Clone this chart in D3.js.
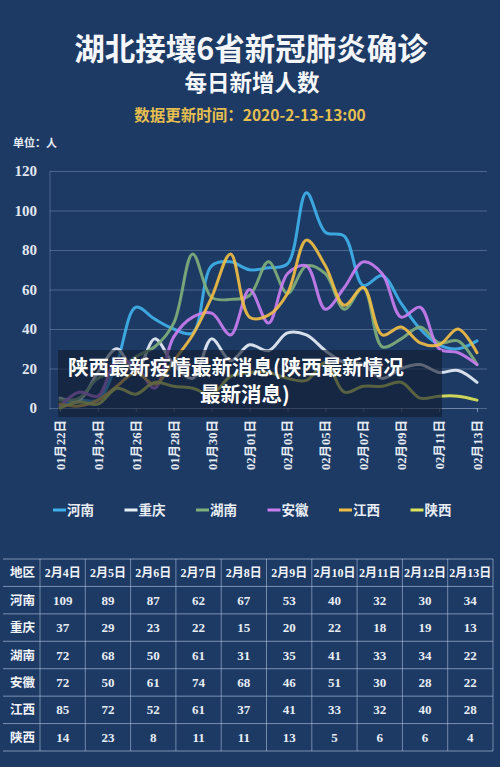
<!DOCTYPE html>
<html><head><meta charset="utf-8">
<script src="https://cdn.jsdelivr.net/npm/d3@7/dist/d3.min.js"></script>
<style>
html,body{margin:0;padding:0;background:#1d3a65;}
svg{display:block;}
</style></head><body>
<svg id="c" width="500" height="767"></svg>
<script>
const dates = ["01月22日","01月23日","01月24日","01月25日","01月26日","01月27日","01月28日","01月29日","01月30日","01月31日","02月01日","02月02日","02月03日","02月04日","02月05日","02月06日","02月07日","02月08日","02月09日","02月10日","02月11日","02月12日","02月13日"];
const provinces = ["河南","重庆","湖南","安徽","江西","陕西"];
const henan     = [1,4,4,23,51,45,40,38,72,74,70,71,73,109,89,87,62,67,53,40,32,30,34];
const chongqing = [5,4,18,30,18,35,22,15,35,24,32,29,38,37,29,23,22,15,20,22,18,19,13];
const hunan     = [4,5,15,19,26,31,43,78,56,55,57,74,58,72,68,50,61,31,35,41,33,34,22];
const anhui     = [1,8,6,24,21,10,36,46,48,37,60,43,68,72,50,61,74,68,46,51,30,28,22];
const jiangxi   = [2,1,4,11,18,12,24,37,56,78,46,47,58,85,72,52,61,37,41,33,32,40,28];
const shaanxi   = [0,3,2,10,7,13,11,10,7,16,18,18,15,14,23,8,11,11,13,5,6,6,4];
const yTicks = [0,20,40,60,80,100,120];
const tableDates = ["2月4日","2月5日","2月6日","2月7日","2月8日","2月9日","2月10日","2月11日","2月12日","2月13日"];
const colors = ["#3fb0e8","#e6eef6","#7fae7a","#c97ef0","#f0bd45","#dde35a"];
const series = [henan,chongqing,hunan,anhui,jiangxi,shaanxi];

const svg = d3.select("#c");
svg.append("rect").attr("width",500).attr("height",767).attr("fill","#1d3a65");

const sans = "'Noto Sans CJK SC','Noto Sans',sans-serif";
const serif = "'Liberation Serif','DejaVu Serif','Noto Sans CJK SC',serif";

// Titles
svg.append("text").attr("x",251).attr("y",60).attr("text-anchor","middle")
  .attr("font-family",sans).attr("font-weight","bold").attr("font-size",30.5).attr("fill","#f4f6fa")
  .text("湖北接壤6省新冠肺炎确诊");
svg.append("text").attr("x",252).attr("y",91).attr("text-anchor","middle")
  .attr("font-family",sans).attr("font-weight","bold").attr("font-size",22.5).attr("fill","#f4f6fa")
  .text("每日新增人数");
svg.append("text").attr("x",250).attr("y",121).attr("text-anchor","middle")
  .attr("font-family",sans).attr("font-weight","bold").attr("font-size",15.5).attr("fill","#e6bf4e")
  .text("数据更新时间：2020-2-13-13:00");
svg.append("text").attr("x",13).attr("y",147)
  .attr("font-family",sans).attr("font-weight","bold").attr("font-size",11).attr("fill","#e8edf4")
  .text("单位：人");

const x = d3.scaleLinear().domain([0,dates.length-1]).range([60,477]);
const y = d3.scaleLinear().domain([0,120]).range([408,171]);

// y axis + grid
const ya = svg.append("g").attr("transform","translate(50,0)")
  .call(d3.axisLeft(y).tickValues(yTicks).tickSize(-437).tickPadding(13));
ya.select(".domain").remove();
ya.selectAll(".tick line").attr("stroke","rgba(200,215,240,0.28)").attr("stroke-width",1);
ya.selectAll(".tick text").attr("font-family",serif).attr("font-weight","bold")
  .attr("font-size",15).attr("fill","#e2e7ef");
svg.append("line").attr("x1",50).attr("x2",50).attr("y1",171).attr("y2",410)
  .attr("stroke","rgba(200,215,240,0.28)");

// x axis
const xa = svg.append("g").attr("transform","translate(0,408)")
  .call(d3.axisBottom(x).tickValues(d3.range(0,dates.length,2)).tickFormat(i=>dates[i]).tickSize(4));
xa.select(".domain").attr("stroke","rgba(200,215,240,0.3)");
xa.selectAll(".tick line").attr("stroke","rgba(200,215,240,0.35)");
xa.selectAll(".tick text").attr("transform","rotate(-90)").attr("text-anchor","end")
  .attr("x",-12).attr("y",0).attr("dy","0.36em")
  .attr("font-family",serif).attr("font-weight","bold").attr("font-size",12.5).attr("fill","#e6ebf2");

// lines
const line = d3.line().x((d,i)=>x(i)).y(d=>y(d)).curve(d3.curveCatmullRom.alpha(0.5));
series.forEach((s,k)=>{
  svg.append("path").datum(s).attr("d",line).attr("fill","none")
    .attr("stroke",colors[k]).attr("stroke-width",3).attr("stroke-opacity",0.92)
    .attr("stroke-linejoin","round").attr("stroke-linecap","round");
});

// overlay caption
svg.append("rect").attr("x",58).attr("y",350).attr("width",384).attr("height",67)
  .attr("fill","rgba(18,28,48,0.62)");
svg.append("text").attr("x",68).attr("y",375)
  .attr("font-family",sans).attr("font-weight","bold").attr("font-size",20.5).attr("fill","#ffffff")
  .text("陕西最新疫情最新消息(陕西最新情况");
svg.append("text").attr("x",200).attr("y",402)
  .attr("font-family",sans).attr("font-weight","bold").attr("font-size",20.5).attr("fill","#ffffff")
  .text("最新消息)");

// legend
provinces.forEach((p,k)=>{
  const x0 = 53 + k*71.5;
  svg.append("line").attr("x1",x0).attr("x2",x0+13).attr("y1",510).attr("y2",510)
    .attr("stroke",colors[k]).attr("stroke-width",3);
  svg.append("text").attr("x",x0+14).attr("y",515)
    .attr("font-family",sans).attr("font-weight","bold").attr("font-size",13.5).attr("fill","#e8edf4")
    .text(p);
});

// table
const tTop = 559, rowH = 27.43, colX0 = 3, col1 = 40, colW = 45.3;
const nCols = tableDates.length, nRows = provinces.length + 1;
const tRight = col1 + colW*nCols;
const tg = svg.append("g");
for(let r=0;r<=nRows;r++){
  tg.append("line").attr("x1",colX0).attr("x2",tRight).attr("y1",tTop+r*rowH).attr("y2",tTop+r*rowH)
    .attr("stroke","rgba(200,215,240,0.55)").attr("stroke-width",1);
}
for(let c=0;c<=nCols;c++){
  tg.append("line").attr("x1",col1+c*colW).attr("x2",col1+c*colW).attr("y1",tTop).attr("y2",tTop+nRows*rowH)
    .attr("stroke","rgba(200,215,240,0.5)").attr("stroke-width",1);
}
const cy = r => tTop + r*rowH + rowH/2 + 4.5;
tg.append("text").attr("x",(colX0+col1)/2+1).attr("y",cy(0)).attr("text-anchor","middle")
  .attr("font-family",sans).attr("font-weight","bold").attr("font-size",12.5).attr("fill","#f0f3f8").text("地区");
tableDates.forEach((d,c)=>{
  tg.append("text").attr("x",col1+c*colW+colW/2).attr("y",cy(0)).attr("text-anchor","middle")
    .attr("font-family",serif).attr("font-weight","bold").attr("font-size",12).attr("fill","#f0f3f8").text(d);
});
const startIdx = dates.length - nCols;
provinces.forEach((p,k)=>{
  tg.append("text").attr("x",(colX0+col1)/2+1).attr("y",cy(k+1)).attr("text-anchor","middle")
    .attr("font-family",sans).attr("font-weight","bold").attr("font-size",12.5).attr("fill","#f0f3f8").text(p);
  series[k].slice(startIdx).forEach((v,c)=>{
    tg.append("text").attr("x",col1+c*colW+colW/2).attr("y",cy(k+1)).attr("text-anchor","middle")
      .attr("font-family",serif).attr("font-weight","bold").attr("font-size",13).attr("fill","#e8edf4").text(v);
  });
});
</script>
</body></html>
